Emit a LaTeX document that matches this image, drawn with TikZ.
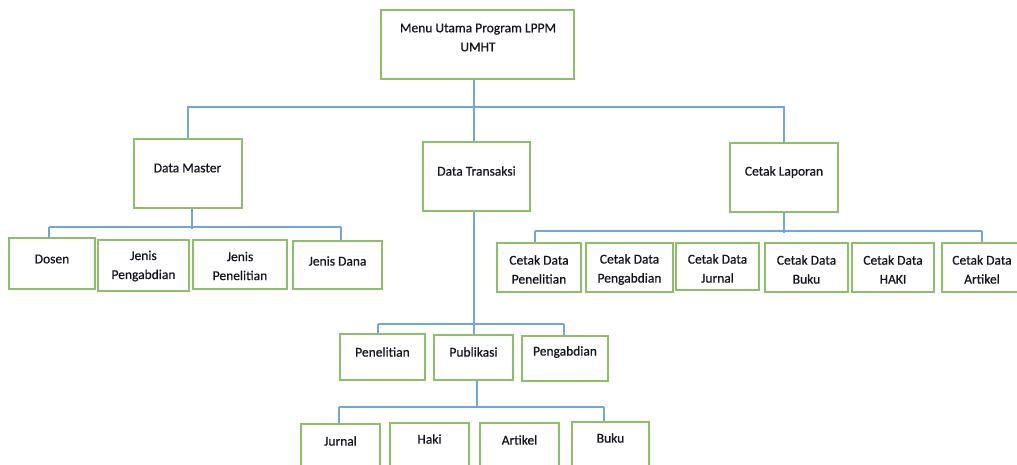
\documentclass[tikz,border=0pt]{standalone}
\usepackage{fontspec}
\setmainfont{Carlito}[FakeBold=0.6]
\usetikzlibrary{calc}
\definecolor{boxgreen}{RGB}{140,192,104}
\definecolor{linkblue}{RGB}{112,166,219}
\definecolor{ink}{RGB}{20,20,30}
\tikzset{
  box/.style={draw=boxgreen, line width=1.5pt, rectangle, inner sep=0pt, fill=white},
  lbl/.style={text=ink, font=\fontsize{13.5}{19}\selectfont, align=center, inner sep=0pt},
  conn/.style={draw=linkblue, line width=1.4pt}
}
% place a box from its corners: \boxat{name}{x1}{y1}{x2}{y2}
\newcommand{\boxat}[5]{%
  \node[box, minimum width={(#4-#2)*1pt}, minimum height={(#5-#3)*1pt}]
    (#1) at ({(#2+#4)/2},{(#3+#5)/2}) {};}
\begin{document}
\begin{tikzpicture}[x=1pt,y=-1pt]
\fill[white] (0,0) rectangle (1017,464);
\useasboundingbox (0,0) rectangle (1017,464);
\clip (0,0) rectangle (1017,464);

% ---- bus points of the connectors ----
\coordinate (rootbus) at (474,107);
\coordinate (dmbusL) at (49,227);
\coordinate (dmbusR) at (341,227);
\coordinate (clbusL) at (535,231);
\coordinate (clbusR) at (982,231);
\coordinate (dtbusL) at (378,324);
\coordinate (dtbusM) at (474,324);
\coordinate (dtbusR) at (564,324);
\coordinate (pubbusL) at (339,407);
\coordinate (pubbusR) at (604,407);

% ---- boxes ----
\boxat{root}{381}{10}{574}{79}
\boxat{dm}{134}{139}{242}{208}
\boxat{dt}{423}{142}{530}{211}
\boxat{cl}{730}{143}{838}{212}
\boxat{dosen}{9}{238}{95}{289}
\boxat{jpg}{98}{240}{189}{291}
\boxat{jpn}{193}{240}{287}{289}
\boxat{jd}{293}{241}{382}{289}
\boxat{cdpn}{497}{243}{581}{292}
\boxat{cdpg}{586}{243}{673}{292}
\boxat{cdj}{676}{243}{759}{290}
\boxat{cdb}{765}{243}{848}{292}
\boxat{cdh}{852}{243}{934}{292}
\boxat{cda}{942}{243}{1024}{292}
\boxat{pen}{340}{334}{425}{380}
\boxat{pub}{434}{335}{513}{380}
\boxat{peng}{522}{336}{608}{381}
\boxat{jur}{301}{424}{380}{480}
\boxat{haki}{390}{423}{469}{480}
\boxat{art}{480}{423}{559}{480}
\boxat{buku}{572}{422}{649}{480}

% root to first level
\draw[conn] (root.south -| rootbus) -- (rootbus);
\draw[conn] (rootbus) -| (dm.north);
\draw[conn] (rootbus) -| (cl.north);
\draw[conn] (rootbus) -- (rootbus |- dt.north);

% Data Master children
\draw[conn] (dm.south -| 192,0) -- (192,229);
\draw[conn] (dmbusL) -- (dmbusR);
\draw[conn] (dmbusL) -- (dmbusL |- dosen.north);
\draw[conn] (dmbusR) -- (dmbusR |- jd.north);

% Cetak Laporan children
\draw[conn] (cl.south -| 784,0) -- (784,233);
\draw[conn] (clbusL) -- (clbusR);
\draw[conn] (clbusL) -- (clbusL |- cdpn.north);
\draw[conn] (clbusR) -- (clbusR |- cda.north);

% Data Transaksi children
\draw[conn] (dt.south -| dtbusM) -- (dtbusM);
\draw[conn] (dtbusL) -- (dtbusR);
\draw[conn] (dtbusL) -- (dtbusL |- pen.north);
\draw[conn] (dtbusM) -- (dtbusM |- pub.north);
\draw[conn] (dtbusR) -- (dtbusR |- peng.north);

% Publikasi children
\draw[conn] (pub.south -| 477,0) -- (477,407);
\draw[conn] (pubbusL) -- (pubbusR);
\draw[conn] (pubbusL) -- (pubbusL |- jur.north);
\draw[conn] (pubbusR) -- (pubbusR |- buku.north);

% ---- labels ----
\node[lbl] (rootT) at (478,37.5) {Menu Utama Program LPPM\\UMHT};
\node[lbl] (dmT) at (187.5,168) {Data Master};
\node[lbl] (dtT) at (476.5,171) {Data Transaksi};
\node[lbl] (clT) at (784,172) {Cetak Laporan};
\node[lbl] (dosenT) at (52,259) {Dosen};
\node[lbl] (jpgT) at (143.5,266) {Jenis\\Pengabdian};
\node[lbl] (jpnT) at (240,266) {Jenis\\Penelitian};
\node[lbl] (jdT) at (337.5,261) {Jenis Dana};
\node[lbl] (cdpnT) at (539,269.5) {Cetak Data\\Penelitian};
\node[lbl] (cdpgT) at (629.5,269.5) {Cetak Data\\Pengabdian};
\node[lbl] (cdjT) at (717.5,268.5) {Cetak Data\\Jurnal};
\node[lbl] (cdbT) at (806.5,269.5) {Cetak Data\\Buku};
\node[lbl] (cdhT) at (893,269.5) {Cetak Data\\HAKI};
\node[lbl] (cdaT) at (982,269.5) {Cetak Data\\Artikel};
\node[lbl] (penT) at (382.5,352) {Penelitian};
\node[lbl] (pubT) at (473.5,352) {Publikasi};
\node[lbl] (pengT) at (565,352) {Pengabdian};
\node[lbl] (jurT) at (340.5,441) {Jurnal};
\node[lbl] (hakiT) at (429.5,439) {Haki};
\node[lbl] (artT) at (519.5,440) {Artikel};
\node[lbl] (bukuT) at (610.5,438) {Buku};
\end{tikzpicture}
\end{document}
